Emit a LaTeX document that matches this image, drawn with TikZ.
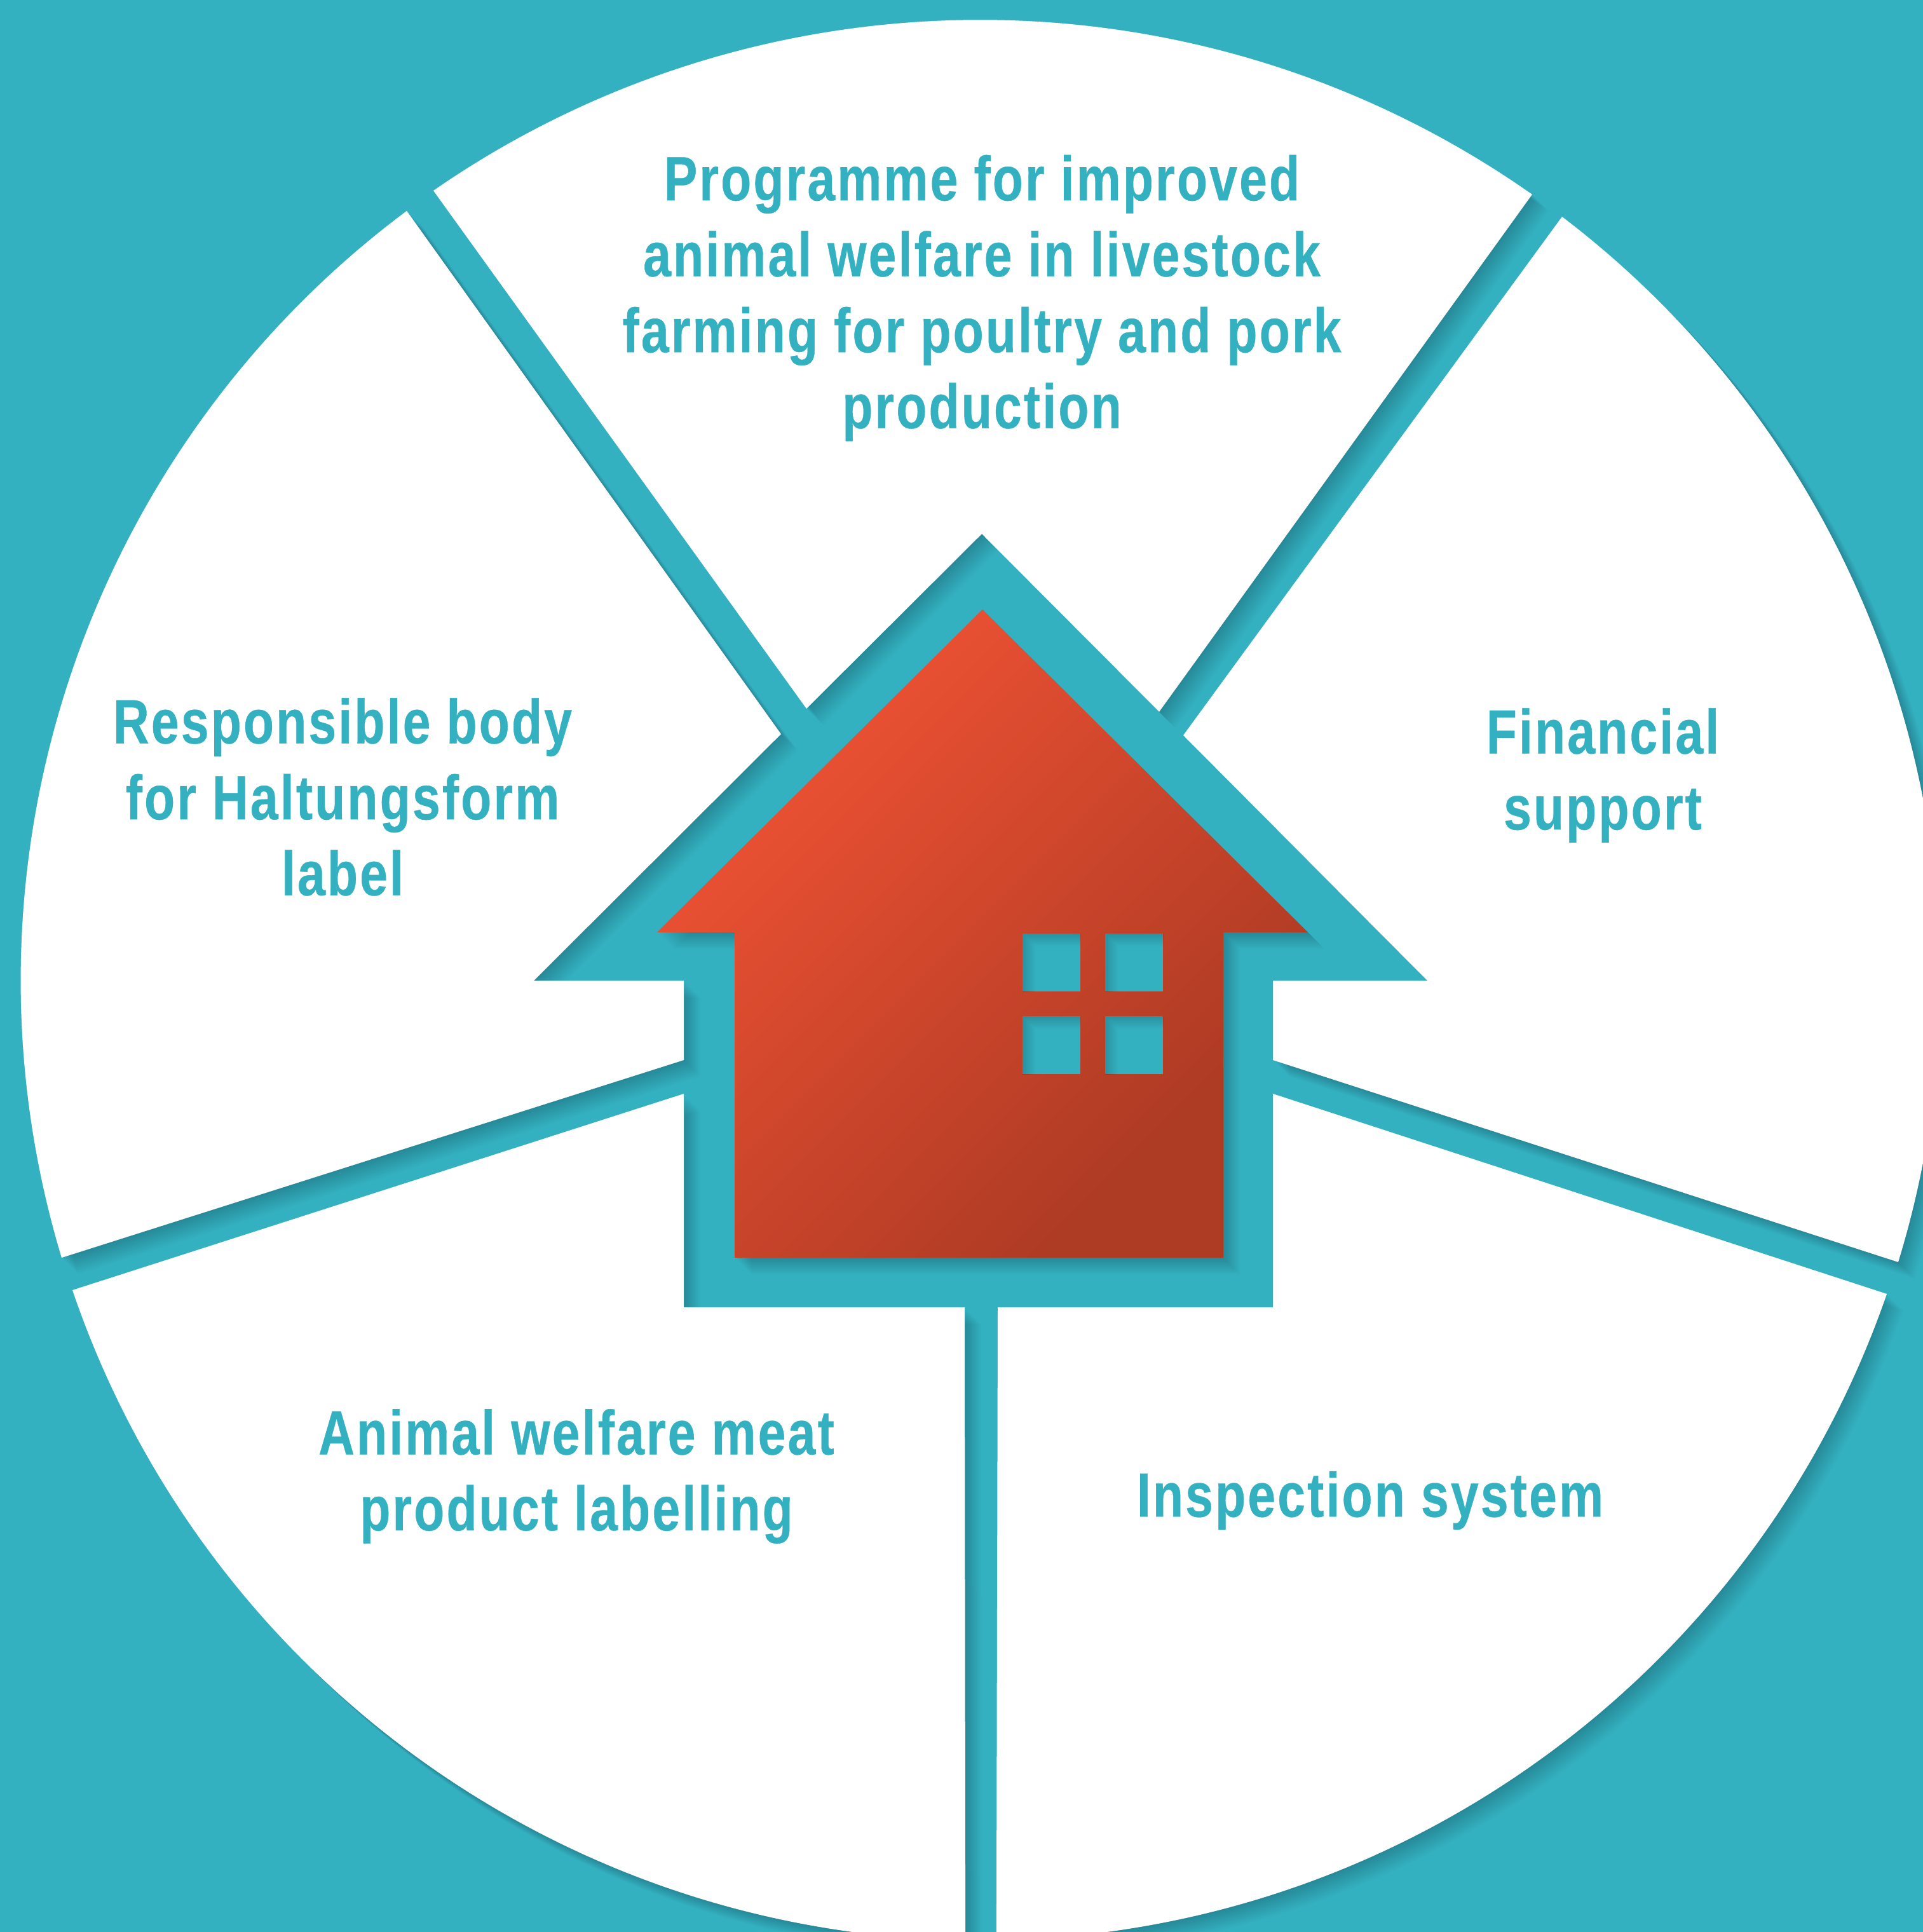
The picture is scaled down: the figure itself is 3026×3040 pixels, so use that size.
\documentclass[tikz,border=0pt]{standalone}
\usepackage{fontspec}
\setmainfont[FakeStretch=0.8,LetterSpace=3.2,FakeBold=0.4]{Liberation Sans}
\usepackage{tikz}
\definecolor{tealbg}{HTML}{34B1C1}
\definecolor{redlight}{HTML}{E95032}
\definecolor{reddark}{HTML}{AE3B24}
\pgfdeclarehorizontalshading{houseshade}{100bp}{color(0bp)=(redlight); color(31bp)=(redlight); color(71bp)=(reddark); color(100bp)=(reddark)}

\newcommand{\wedgeTop}{(1269,1115) -- (682,300) arc[start angle=124.7, end angle=54.9, radius=15.11cm] -- (1824,1120) -- (1545,840) -- cycle}
\newcommand{\wedgeRight}{(1862,1157) -- (2458,341) arc[start angle=52.7, end angle=-17.05, radius=15.11cm] -- (2003,1668) -- (2003,1543) -- (2246,1543) -- cycle}
\newcommand{\wedgeLowRight}{(2003,1721) -- (2969,2036) arc[start angle=-19.07, end angle=-88.98, radius=15.11cm] -- (1570,2057) -- (2003,2057) -- cycle}
\newcommand{\wedgeLowLeft}{(1076,1721) -- (114,2030) arc[start angle=198.82, end angle=269.05, radius=15.11cm] -- (1518,2057) -- (1076,2057) -- cycle}
\newcommand{\wedgeLeft}{(1076,1668) -- (97,1979) arc[start angle=196.78, end angle=126.73, radius=15.11cm] -- (1229,1155) -- (840,1543) -- (1076,1543) -- cycle}
\newcommand{\housePath}{(1546,959) -- (2058,1467) -- (1925,1467) -- (1925,1979) -- (1156,1979) -- (1156,1467) -- (1034,1467) -- cycle}

\newcommand{\castShadow}[1]{%
  \foreach \s in {2,4,...,26}
    \fill[black, opacity=0.014, shift={(\s,\s)}] #1;}

\begin{document}
\begin{tikzpicture}[x=0.1mm, y=-0.1mm,
    every node/.style={font=\fontsize{28}{34}\bfseries\selectfont, text=tealbg, align=center, inner sep=0pt}]
    \useasboundingbox (0,0) rectangle (3026,3040);
    \fill[tealbg] (0,0) rectangle (3026,3040);

    \foreach \w in {\wedgeTop,\wedgeRight,\wedgeLowRight,\wedgeLowLeft,\wedgeLeft} {
        \castShadow{\w}
        \fill[white] \w;
    }

    \castShadow{\housePath}
    \shade[shading=houseshade, shading angle=-45] \housePath;

    \foreach \wx in {1609,1739}
        \foreach \wy in {1469,1599} {
            \fill[tealbg] (\wx,\wy) rectangle ++(91,91);
            \begin{scope}
                \clip (\wx,\wy) rectangle ++(91,91);
                \foreach \s in {2,4,...,20}
                    \fill[black, opacity=0.016, even odd rule] (\wx-50,\wy-50) rectangle ++(191,191) (\wx+\s,\wy+\s) rectangle ++(91,91);
            \end{scope}
        }

    \node (programme) at (1545,469) {Programme for improved\\animal welfare in livestock\\farming for poultry and pork\\production};
    \node (body) at (539,1254) {Responsible body\\for Haltungsform\\label};
    \node (support) at (2522,1220) {Financial\\support};
    \node (labelling) at (907,2323) {Animal welfare meat\\product labelling};
    \node (inspection) at (2156,2361) {Inspection system};
\end{tikzpicture}
\end{document}
